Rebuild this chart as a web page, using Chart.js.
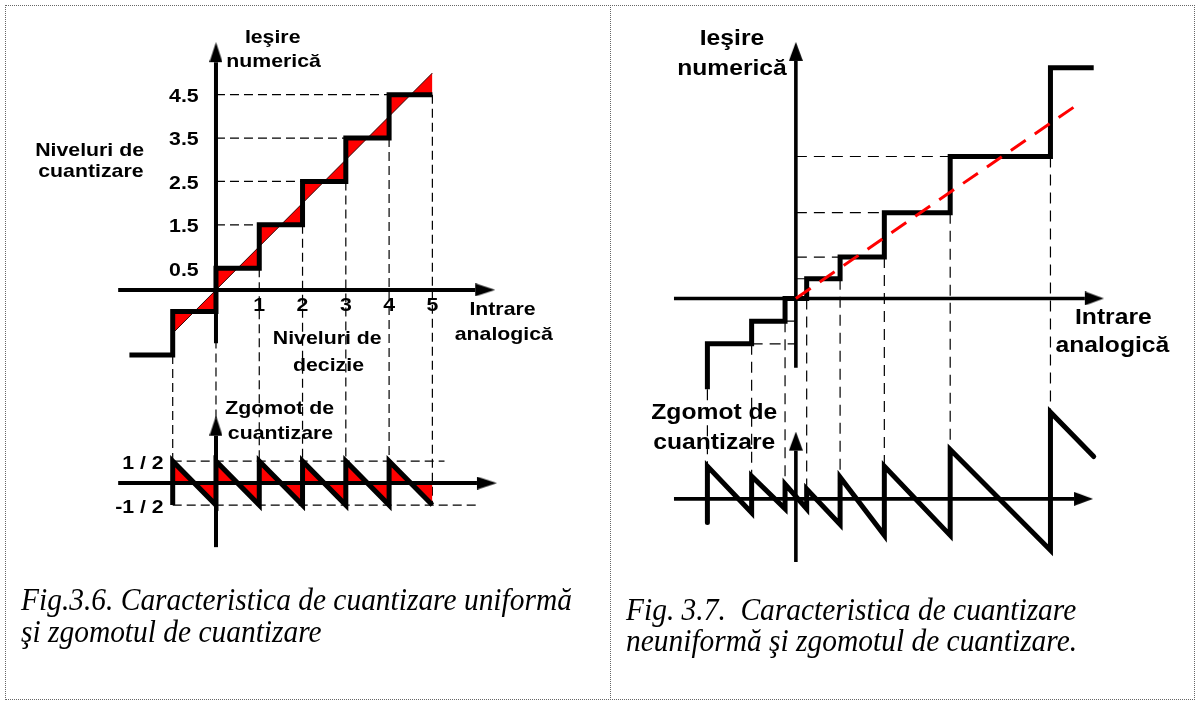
<!DOCTYPE html>
<html>
<head>
<meta charset="utf-8">
<script src="https://cdn.jsdelivr.net/npm/chart.js@4.4.1/dist/chart.umd.min.js"></script>
<style>
html,body{margin:0;padding:0;background:#fff;}
#wrap{position:relative;width:1197px;height:704px;overflow:hidden;background:#fff;}
canvas{position:absolute;top:0;}
#cL{left:0;}
#cR{left:610px;}
#frame{position:absolute;left:5px;top:5px;width:1190px;height:695px;border:1px dotted #666;box-sizing:border-box;pointer-events:none;}
#divider{position:absolute;left:610px;top:5px;width:0;height:695px;border-left:1px dotted #666;pointer-events:none;}
.cap{position:absolute;font-family:"Liberation Serif","Times New Roman",serif;font-style:italic;font-size:32px;line-height:32px;white-space:pre;transform:scaleX(0.92);transform-origin:0 0;color:#000;}
</style>
</head>
<body>
<div id="wrap">
  <canvas id="cL" width="610" height="704"></canvas>
  <canvas id="cR" width="587" height="704"></canvas>
  <div id="frame"></div>
  <div id="divider"></div>
  <div class="cap" style="left:21px;top:583px;">Fig.3.6. Caracteristica de cuantizare uniformă</div>
  <div class="cap" style="left:21px;top:615px;">şi zgomotul de cuantizare</div>
  <div class="cap" style="left:626px;top:593px;">Fig. 3.7.  Caracteristica de cuantizare</div>
  <div class="cap" style="left:626px;top:624px;">neuniformă şi zgomotul de cuantizare.</div>
</div>
<script>
// ================= DATA =================
// Fig. 3.6 – uniform quantizer
const L_THRESHOLDS   = [-1, 0, 1, 2, 3, 4];            // decision levels (input)
const L_LEVELS       = [-0.5, 0.5, 1.5, 2.5, 3.5, 4.5]; // output level right of each threshold
const L_START        = {x: -2, y: -1.5};
const L_END_X        = 5;
const L_IDEAL        = [{x: -1, y: -1}, {x: 5, y: 5}];  // y = x
const L_NOISE_TOP    = [0.5, 0.5, 0.5, 0.5, 0.5, 0.5];
const L_NOISE_BOTTOM = [-0.5, -0.5, -0.5, -0.5, -0.5, -0.5];
const L_NOISE_END    = -0.5;
const L_Y_TICKS      = [0.5, 1.5, 2.5, 3.5, 4.5];
const L_X_TICKS      = [1, 2, 3, 4, 5];
const L_NOISE_TICKS  = [0.5, -0.5];
const L_NOISE_TICK_LABELS = ['1 / 2', '-1 / 2'];

// Fig. 3.7 – non-uniform quantizer
const R_THRESHOLDS   = [-9.0, -4.5, -1.1, 1.1, 4.5, 9.0, 15.7, 25.9];
const R_LEVELS       = [-4.6, -2.3, 0, 2.0, 4.2, 8.7, 14.4, 23.4];
const R_START        = {x: -9.0, y: -9.2};
const R_END_X        = 30.3;
const R_IDEAL        = [{x: 0, y: 0}, {x: 28.7, y: 19.7}];
const R_NOISE_TOP    = [3.3, 2.3, 1.5, 1.0, 2.2, 3.3, 5.0, 8.8];
const R_NOISE_BOTTOM = [-2.4, -1.4, -1.0, -1.0, -2.6, -3.7, -3.7, -5.2];
const R_NOISE_END    = 4.3;

// ================= LAYOUT (pixel geometry of each panel) =================
const LAY_L = {w: 610, h: 704, ox: 214.5, oy: 289, ony: 485, ux: 44, uy: 44, un: 44.5,
  axX: [-2.26, 5.99], axY: [-1.23, 5.25], axNX: [-2.26, 6.03], axNY: [-1.46, 1.08],
  noiseGuideEnds: [5.28, 6.03], guideTop: true,
  font: 18.5, sx: 1.15, stairW: 5, axisW: 4, dash: [9, 5], arrow: [13, 20]};
const LAY_R = {w: 587, h: 704, ox: 184, oy: 297.7, ony: 501, ux: 10, uy: 10, un: 10,
  axX: [-12.4, 29.4], axY: [-7.03, 24.1], axNX: [-12.4, 28.3], axNY: [-6.4, 4.9],
  guideTop: false,
  font: 22, sx: 1.12, stairW: 5, axisW: 3.6, dash: [11, 7], arrow: [14, 19]};

// ================= helpers =================
function scalesFor(L) {
  return {
    x:  {type: 'linear', display: false, min: -L.ox / L.ux, max: (L.w - L.ox) / L.ux},
    y:  {type: 'linear', display: false, min: (L.oy - L.h) / L.uy, max: L.oy / L.uy},
    yn: {type: 'linear', display: false, min: (L.ony - L.h) / L.un, max: L.ony / L.un}
  };
}
function stairPoints(start, thr, lev, endX) {
  return [start].concat(thr.map((t, i) => ({x: t, y: lev[i]})), [{x: endX, y: lev[lev.length - 1]}]);
}
function noisePoints(thr, top, bot, endX, endV) {
  const p = [];
  thr.forEach((t, i) => { p.push({x: t, y: bot[i]}); p.push({x: t, y: top[i]}); });
  p.push({x: endX, y: endV});
  return p;
}
function hGuides(thr, lev, withNeg, withTop) {
  const p = [];
  lev.forEach((v, i) => {
    if (!withTop && i === lev.length - 1) return;
    if (v > 0 && thr[i] > 0) p.push({x: 0, y: v}, {x: thr[i], y: v}, {x: 0, y: null});
    else if (withNeg && v < 0 && i + 1 < thr.length && thr[i + 1] < 0)
      p.push({x: thr[i + 1], y: v}, {x: 0, y: v}, {x: 0, y: null});
  });
  return p;
}
function vGuides(thr, lev, start, top) {
  return thr.map((t, i) => ({x: t, y1: i === 0 ? start.y : lev[i - 1], y2: top[i]}));
}
function makeArrow(w, len) {
  const c = document.createElement('canvas');
  c.width = w; c.height = len * 2;
  const g = c.getContext('2d');
  g.fillStyle = '#000';
  g.beginPath(); g.moveTo(w / 2, 0); g.lineTo(w, len); g.lineTo(0, len); g.closePath(); g.fill();
  return c;
}
function line(data, extra) {
  return Object.assign({data: data, showLine: true, pointRadius: 0, borderColor: '#000',
    borderWidth: 1, fill: false, tension: 0, yAxisID: 'y', borderCapStyle: 'butt',
    borderJoinStyle: 'miter'}, extra || {});
}
function axesDatasets(L, arrowImg) {
  return [
    line([{x: L.axX[0], y: 0}, {x: L.axX[1], y: 0}], {borderWidth: L.axisW, order: 20}),
    line([{x: 0, y: L.axY[0]}, {x: 0, y: L.axY[1]}], {borderWidth: L.axisW, order: 20}),
    line([{x: L.axNX[0], y: 0}, {x: L.axNX[1], y: 0}], {borderWidth: L.axisW, order: 20, yAxisID: 'yn'}),
    line([{x: 0, y: L.axNY[0]}, {x: 0, y: L.axNY[1]}], {borderWidth: L.axisW, order: 20, yAxisID: 'yn'}),
    {data: [{x: L.axX[1], y: 0}, {x: 0, y: L.axY[1]}], showLine: false, yAxisID: 'y', order: 2,
     pointStyle: arrowImg, pointRadius: 5, pointRotation: [90, 0], borderWidth: 0},
    {data: [{x: L.axNX[1], y: 0}, {x: 0, y: L.axNY[1]}], showLine: false, yAxisID: 'yn', order: 2,
     pointStyle: arrowImg, pointRadius: 5, pointRotation: [90, 0], borderWidth: 0}
  ];
}
function guidePlugin(guides, dash) {
  return {id: 'crossGuides', beforeDatasetsDraw(chart) {
    const ctx = chart.ctx, xs = chart.scales.x, ys = chart.scales.y, yn = chart.scales.yn;
    ctx.save();
    ctx.setLineDash(dash); ctx.lineWidth = 1.2; ctx.strokeStyle = '#000';
    guides.forEach(g => {
      const px = xs.getPixelForValue(g.x);
      ctx.beginPath();
      ctx.moveTo(px, ys.getPixelForValue(g.y1));
      ctx.lineTo(px, yn.getPixelForValue(g.y2));
      ctx.stroke();
    });
    ctx.restore();
  }};
}
function textPlugin(texts, L) {
  return {id: 'labels', afterDatasetsDraw(chart) {
    const ctx = chart.ctx, xs = chart.scales.x;
    ctx.save();
    ctx.fillStyle = '#000';
    ctx.font = 'bold ' + L.font + 'px "Liberation Sans", Arial, sans-serif';
    ctx.textBaseline = 'alphabetic';
    texts.forEach(o => {
      const sc = chart.scales[o.s || 'y'];
      ctx.save();
      ctx.translate(xs.getPixelForValue(o.x), sc.getPixelForValue(o.y));
      ctx.scale(L.sx, 1);
      ctx.textAlign = o.a || 'center';
      ctx.fillText(o.t, 0, 0);
      ctx.restore();
    });
    ctx.restore();
  }};
}
const baseOptions = (L) => ({
  responsive: false, animation: false, devicePixelRatio: 1, events: [],
  layout: {padding: 0},
  plugins: {legend: {display: false}, tooltip: {enabled: false}, filler: {propagate: false}},
  elements: {point: {radius: 0}, line: {tension: 0}},
  scales: scalesFor(L)
});

// ================= LEFT PANEL (Fig. 3.6) =================
(function () {
  const L = LAY_L;
  const stair = stairPoints(L_START, L_THRESHOLDS, L_LEVELS, L_END_X);
  const redStair = [L_IDEAL[0]].concat(L_THRESHOLDS.map((t, i) => ({x: t, y: L_LEVELS[i]})), [L_IDEAL[1]]);
  const noise = noisePoints(L_THRESHOLDS, L_NOISE_TOP, L_NOISE_BOTTOM, L_END_X, L_NOISE_END);
  const noiseGuides = [
    {x: L_THRESHOLDS[0], y: L_NOISE_TICKS[0]}, {x: L.noiseGuideEnds[0], y: L_NOISE_TICKS[0]}, {x: 0, y: null},
    {x: L_THRESHOLDS[0], y: L_NOISE_TICKS[1]}, {x: L.noiseGuideEnds[1], y: L_NOISE_TICKS[1]}
  ];
  const datasets = [
    line(L_IDEAL, {borderWidth: 1, borderColor: '#300', order: 40}),                      // 0 diagonal
    line(redStair, {borderWidth: 0, stepped: 'before', fill: 0, backgroundColor: '#ff0000', order: 50}), // red triangles
    line(noise, {borderWidth: 0, fill: 'origin', backgroundColor: '#ff0000', yAxisID: 'yn', order: 55}), // red noise triangles
    line(hGuides(L_THRESHOLDS, L_LEVELS, false, L.guideTop), {borderWidth: 1.2, borderDash: L.dash, order: 60}),
    line(noiseGuides, {borderWidth: 1.2, borderDash: L.dash, order: 60, yAxisID: 'yn'}),
    line(stair, {borderWidth: L.stairW, stepped: 'before', order: 10}),
    line(noise, {borderWidth: L.stairW, yAxisID: 'yn', order: 10})
  ].concat(axesDatasets(L, makeArrow(L.arrow[0], L.arrow[1])));

  const guides = vGuides(L_THRESHOLDS, L_LEVELS, L_START, L_NOISE_TOP)
    .concat([{x: L_END_X, y1: L_LEVELS[L_LEVELS.length - 1], y2: L_NOISE_END}]);

  const texts = [
    {t: 'Ieşire', x: 1.31, y: 5.70},
    {t: 'numerică', x: 1.33, y: 5.13},
    {t: 'Niveluri de', x: -2.92, y: 3.08},
    {t: 'cuantizare', x: -2.89, y: 2.61},
    {t: 'Niveluri de', x: 2.57, y: -1.25},
    {t: 'decizie', x: 2.60, y: -1.88},
    {t: 'Intrare', x: 6.62, y: -0.59},
    {t: 'analogică', x: 6.65, y: -1.16},
    {t: 'Zgomot de', x: 1.47, y: 1.57, s: 'yn'},
    {t: 'cuantizare', x: 1.49, y: 1.01, s: 'yn'}
  ].concat(
    L_Y_TICKS.map(v => ({t: String(v), x: -0.40, y: v - 0.17, a: 'right'})),
    L_X_TICKS.map(v => ({t: String(v), x: v, y: -0.48})),
    L_NOISE_TICKS.map((v, i) => ({t: L_NOISE_TICK_LABELS[i], x: -1.21, y: v - 0.17, a: 'right', s: 'yn'}))
  );

  new Chart(document.getElementById('cL'), {
    type: 'line',
    data: {datasets: datasets},
    options: baseOptions(L),
    plugins: [guidePlugin(guides, L.dash), textPlugin(texts, L)]
  });
})();

// ================= RIGHT PANEL (Fig. 3.7) =================
(function () {
  const L = LAY_R;
  const stair = stairPoints(R_START, R_THRESHOLDS, R_LEVELS, R_END_X);
  const noise = noisePoints(R_THRESHOLDS, R_NOISE_TOP, R_NOISE_BOTTOM, R_END_X, R_NOISE_END);
  const datasets = [
    line(R_IDEAL, {borderWidth: 3, borderColor: '#ff0000', borderDash: [18, 11], order: 5}),
    line(hGuides(R_THRESHOLDS, R_LEVELS, true, L.guideTop), {borderWidth: 1.2, borderDash: L.dash, order: 60}),
    line(stair, {borderWidth: L.stairW, stepped: 'before', order: 10}),
    line(noise, {borderWidth: L.stairW, yAxisID: 'yn', order: 10, borderCapStyle: 'round'})
  ].concat(axesDatasets(L, makeArrow(L.arrow[0], L.arrow[1])));

  const guides = vGuides(R_THRESHOLDS, R_LEVELS, R_START, R_NOISE_TOP);

  const texts = [
    {t: 'Ieşire', x: -6.5, y: 25.7},
    {t: 'numerică', x: -6.5, y: 22.7},
    {t: 'Intrare', x: 32.3, y: -2.56},
    {t: 'analogică', x: 32.2, y: -5.40},
    {t: 'Zgomot de', x: -8.3, y: 8.1, s: 'yn'},
    {t: 'cuantizare', x: -8.3, y: 5.1, s: 'yn'}
  ];

  new Chart(document.getElementById('cR'), {
    type: 'line',
    data: {datasets: datasets},
    options: baseOptions(L),
    plugins: [guidePlugin(guides, L.dash), textPlugin(texts, L)]
  });
})();
</script>
</body>
</html>
